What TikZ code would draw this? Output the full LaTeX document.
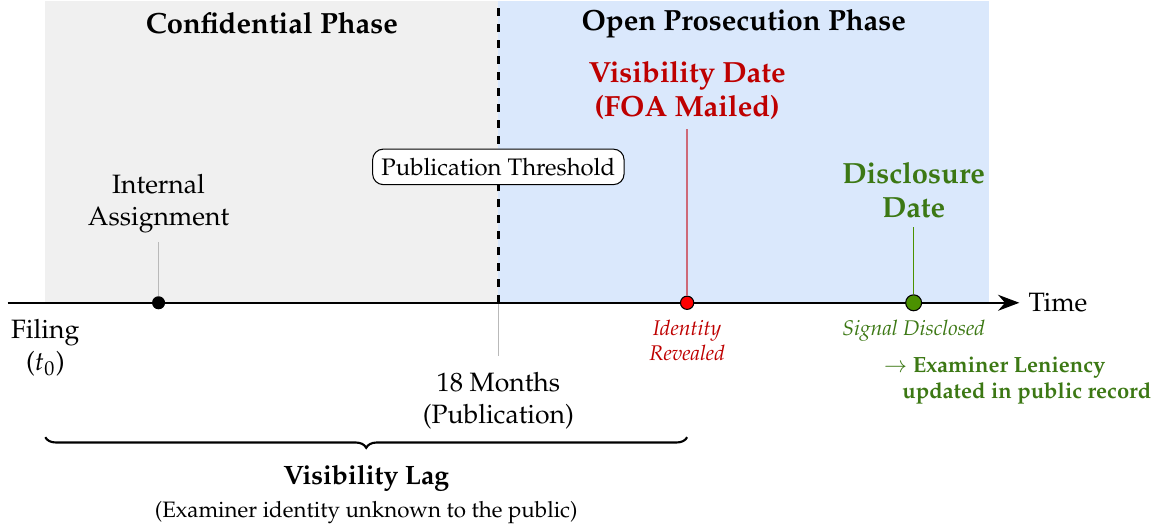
\documentclass[tikz,border=0pt]{standalone}
\usepackage[T1]{fontenc}
\usepackage{mathpazo}
\usepackage{xcolor}
\usepackage{tikz}
\usetikzlibrary{positioning}
\usetikzlibrary{arrows.meta,decorations.pathreplacing}

\definecolor{confgray}{RGB}{240,240,240}
\definecolor{openblue}{RGB}{218,232,252}
\definecolor{visred}{RGB}{190,0,0}
\definecolor{stemred}{RGB}{205,105,120}
\definecolor{discgreen}{RGB}{60,120,20}
\definecolor{dotgreen}{RGB}{75,145,0}

\begin{document}
\begin{tikzpicture}[>={Stealth[length=8pt,width=6pt]},
    dot/.style={circle,draw=black,inner sep=0pt},
    stem/.style={gray!55,thin},
    phase/.style={font=\fontsize{11}{13}\selectfont\bfseries},
    event/.style={align=center,font=\fontsize{11}{13}\selectfont\bfseries},
    note/.style={align=center,font=\footnotesize\itshape}]
  \useasboundingbox (-0.6,-2.97) rectangle (14.71,4.01);
  % Draw phases
  \fill[confgray] (0,0) rectangle (6,4);
  \fill[openblue] (6,0) rectangle (12.5,4);
  \node (conf) [phase] at (3,3.7) {Confidential Phase};
  \node (open) [phase] at (9.25,3.7) {Open Prosecution Phase};
  % Publication threshold
  \coordinate (pub) at (6,0);
  \coordinate (pubtop) at (6,4);
  \coordinate (pubfoot) at (6,-0.7);
  \draw[line width=1pt,dashed] (pub) -- (pubtop);
  \draw[stem] (pub) -- (pubfoot);
  \node (thresh) [draw,thin,fill=white,rounded corners=4pt,font=\small] at (6,1.8) {Publication Threshold};
  \node (publbl) [below=0.1cm of pubfoot,align=center] {18 Months\\(Publication)};
  % Draw axis
  \coordinate (tstart) at (-0.5,0);
  \coordinate (tend) at (12.9,0);
  \draw[->,thick] (tstart) -- (tend);
  \node (time) [right] at (tend) {Time};
  \coordinate (file) at (0,0);
  \node (filelbl) [below=0.1cm of file,align=center] {Filing\\($t_0$)};
  % Events
  \node (assign) [dot,fill=black,minimum size=4.5pt] at (1.5,0) {};
  \node (assignlbl) [above,align=center] at (1.5,0.8) {Internal\\Assignment};
  \draw[stem] (assign) -- (assignlbl);

  \node (vis) [dot,fill=red,minimum size=5pt] at (8.5,0) {};
  \node (vislbl) [event,text=visred,above] at (8.5,2.3) {Visibility Date\\(FOA Mailed)};
  \draw[semithick,stemred] (vis) -- (vislbl);
  \node (visnote) [note,text=visred,below] at (8.5,-0.1) {Identity\\Revealed};

  \node (disc) [dot,fill=dotgreen,minimum size=6pt] at (11.5,0) {};
  \node (disclbl) [event,text=discgreen,above] at (11.5,1) {Disclosure\\Date};
  \draw[dotgreen] (disc) -- (disclbl);
  \node (discnote) [note,text=discgreen,below] at (11.5,-0.1) {Signal Disclosed};
  \node (lenient) [anchor=north west,align=left,font=\fontsize{8.3}{9.5}\selectfont\bfseries,text=discgreen]
    at (10.98,-0.6) {$\rightarrow$ Examiner Leniency\\\mbox{}\hspace{7pt}updated in public record};
  % Visibility lag
  \coordinate (lagstart) at (0,-1.78);
  \coordinate (lagend) at (8.5,-1.78);
  \draw[thick,decorate,decoration={brace,mirror,amplitude=4pt}] (lagstart) -- (lagend);
  \node (lag) [font=\bfseries] at (4.25,-2.33) {Visibility Lag};
  \node (lagnote) [font=\fontsize{8.4}{10}\selectfont] at (4.25,-2.78) {(Examiner identity unknown to the public)};
\end{tikzpicture}
\end{document}
